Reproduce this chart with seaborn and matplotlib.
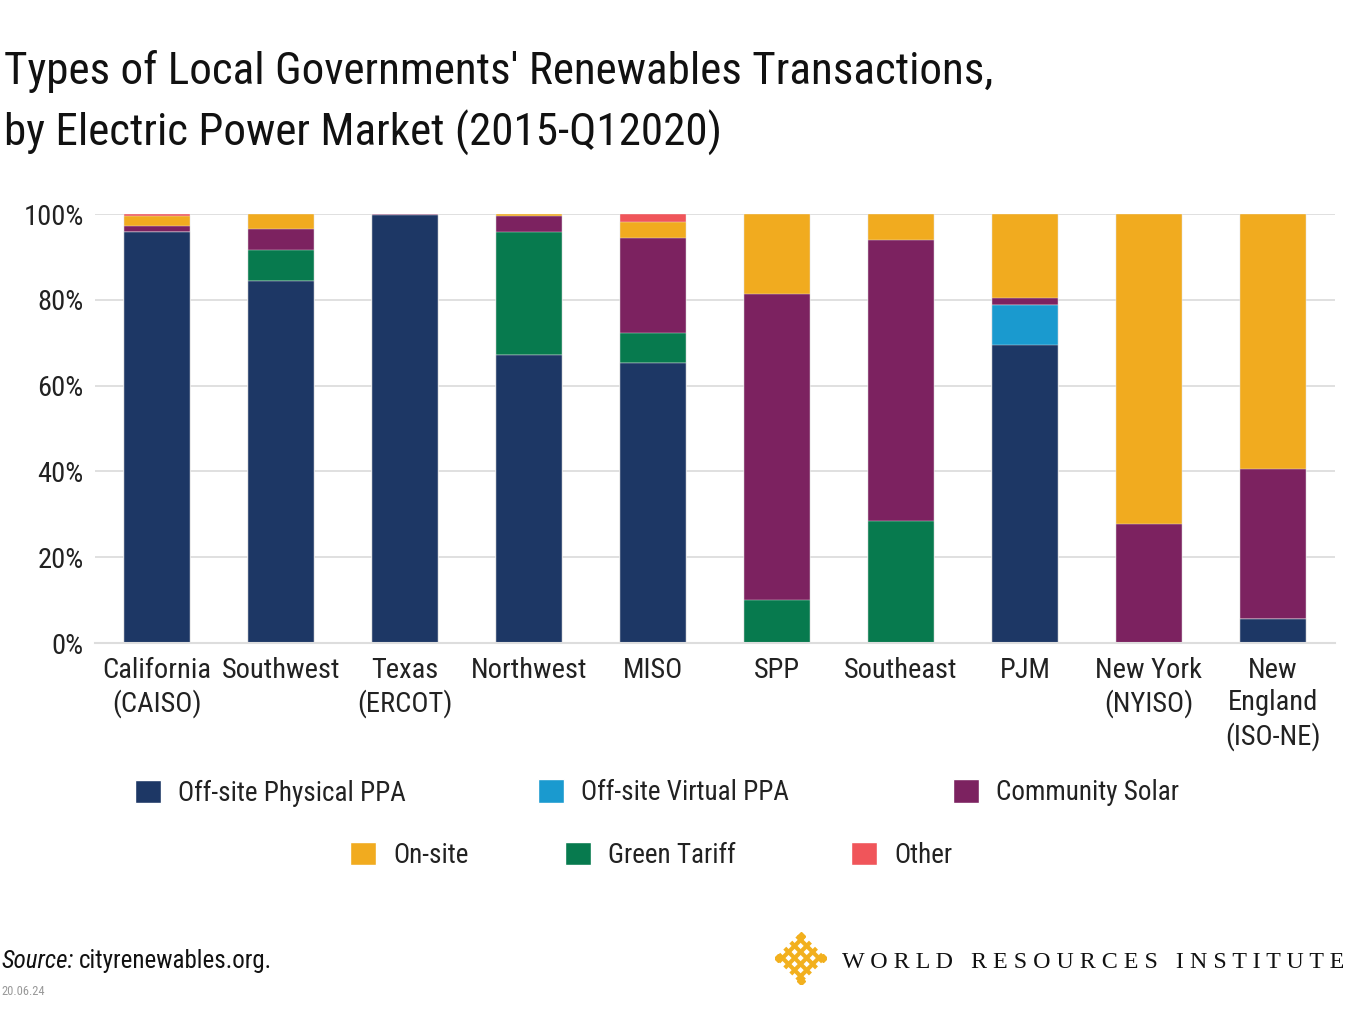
import numpy as np
import pandas as pd
import seaborn as sns
import matplotlib.pyplot as plt
from matplotlib.patches import Patch

# data (percent of transactions per market)
markets = ["California\n(CAISO)", "Southwest", "Texas\n(ERCOT)", "Northwest", "MISO",
           "SPP", "Southeast", "PJM", "New York\n(NYISO)", "New\nEngland\n(ISO-NE)"]
offsite_physical = [95.9, 84.5, 99.8, 67.1, 65.3, 0.0, 0.0, 69.5, 0.0, 5.5]
offsite_virtual = [0.0, 0.0, 0.0, 0.0, 0.0, 0.0, 0.0, 9.3, 0.0, 0.0]
green_tariff = [0.0, 7.2, 0.0, 28.7, 6.9, 10.0, 28.4, 0.0, 0.0, 0.0]
community_solar = [1.3, 4.9, 0.2, 3.8, 22.1, 71.3, 65.6, 1.7, 27.7, 35.1]
onsite = [2.4, 3.4, 0.0, 0.4, 3.9, 18.7, 6.0, 19.5, 72.3, 59.4]
other = [0.4, 0.0, 0.0, 0.0, 1.8, 0.0, 0.0, 0.0, 0.0, 0.0]

series = ["Off-site Physical PPA", "Off-site Virtual PPA", "Green Tariff",
          "Community Solar", "On-site", "Other"]
colors = {"Off-site Physical PPA": "#1D3765", "Off-site Virtual PPA": "#1A9ACF",
          "Green Tariff": "#077A4E", "Community Solar": "#7C2260",
          "On-site": "#F1AB1F", "Other": "#F0555A"}

df = pd.DataFrame({"Market": markets,
                   "Off-site Physical PPA": offsite_physical,
                   "Off-site Virtual PPA": offsite_virtual,
                   "Green Tariff": green_tariff,
                   "Community Solar": community_solar,
                   "On-site": onsite,
                   "Other": other})
cum = df[series].cumsum(axis=1)

sns.set_style("white")
FONT = ["Roboto Condensed", "DejaVu Sans"]
plt.rcParams["font.family"] = FONT

fig = plt.figure(figsize=(13.49, 10.09), dpi=100)
ax = fig.add_axes([0.0704, 0.3627, 0.9192, 0.4252])

# stacked bars: draw cumulative totals from the top layer down
for s in reversed(series):
    sns.barplot(x=df["Market"], y=cum[s], color=colors[s], width=0.53,
                saturation=1, edgecolor="#E8E8E8", linewidth=0.3, ax=ax)

ax.set_xlim(-0.5, 9.5)
ax.set_ylim(0, 100)
ax.set_yticks([0, 20, 40, 60, 80, 100])
ax.set_yticklabels([f"{v}%" for v in [0, 20, 40, 60, 80, 100]])
ax.yaxis.grid(True, color="#DDDDDD", linewidth=1.3)
ax.set_axisbelow(True)
for sp in ["top", "right", "left"]:
    ax.spines[sp].set_visible(False)
ax.spines["bottom"].set_color("#DDDDDD")
ax.spines["bottom"].set_linewidth(1.5)
ax.tick_params(axis="both", length=0, labelsize=20.5, colors="#222222")
ax.tick_params(axis="x", pad=10)
ax.tick_params(axis="y", pad=8)
for t in ax.get_xticklabels():
    t.set_linespacing(1.25)
ax.set_xlabel("")
ax.set_ylabel("")

# title
fig.text(0.003, 0.9167, "Types of Local Governments' Renewables Transactions,",
         fontsize=32.5, va="baseline", ha="left", color="#111111")
fig.text(0.003, 0.8553, "by Electric Power Market (2015-Q12020)",
         fontsize=32.5, va="baseline", ha="left", color="#111111")

# legend, two rows
row1 = [("Off-site Physical PPA", 0.1001), ("Off-site Virtual PPA", 0.3988), ("Community Solar", 0.7064)]
row2 = [("On-site", 0.2595), ("Green Tariff", 0.4188), ("Other", 0.6308)]
for row, y in [(row1, 0.2141), (row2, 0.1526)]:
    for lab, x in row:
        fig.legend(handles=[Patch(facecolor=colors[lab], label=lab)],
                   loc="center left", bbox_to_anchor=(x, y), frameon=False,
                   fontsize=19.5, handlelength=0.95, handleheight=0.95, handletextpad=0.65,
                   borderpad=0, borderaxespad=0, labelcolor="#222222")

# source + date
src = fig.text(0.001, 0.041, "Source:", fontsize=18, style="italic", color="#111111")
fig.canvas.draw()
bb = src.get_window_extent(fig.canvas.get_renderer())
fig.text(bb.x1 / fig.bbox.width + 0.004, 0.041, "cityrenewables.org.", fontsize=18, color="#111111")
fig.text(0.001, 0.014, "20.06.24", fontsize=9, color="#999999")

# WRI logo: woven diamond
lax = fig.add_axes([0.5745, 0.025, 0.038, 0.051])
lax.set_xlim(-1.2, 1.2)
lax.set_ylim(-1.2, 1.2)
lax.axis("off")
logo = "#F2B01E"
t = np.array([-0.85, 0.85]) / np.sqrt(2)
for k in np.linspace(-0.6, 0.6, 4) / np.sqrt(2):
    lax.plot(t + k, t - k, color=logo, lw=3.0, solid_capstyle="butt")
    lax.plot(t + k, -t + k, color=logo, lw=3.0, solid_capstyle="butt")
for dx, dy in [(0, 1.05), (0, -1.05), (1.05, 0), (-1.05, 0)]:
    lax.plot(dx, dy, marker="D", color=logo, ms=4)

fig.text(0.624, 0.041, "W O R L D   R E S O U R C E S   I N S T I T U T E", fontsize=17.3,
         family="Liberation Serif", color="#111111")

fig.savefig("out.png", dpi=100)
